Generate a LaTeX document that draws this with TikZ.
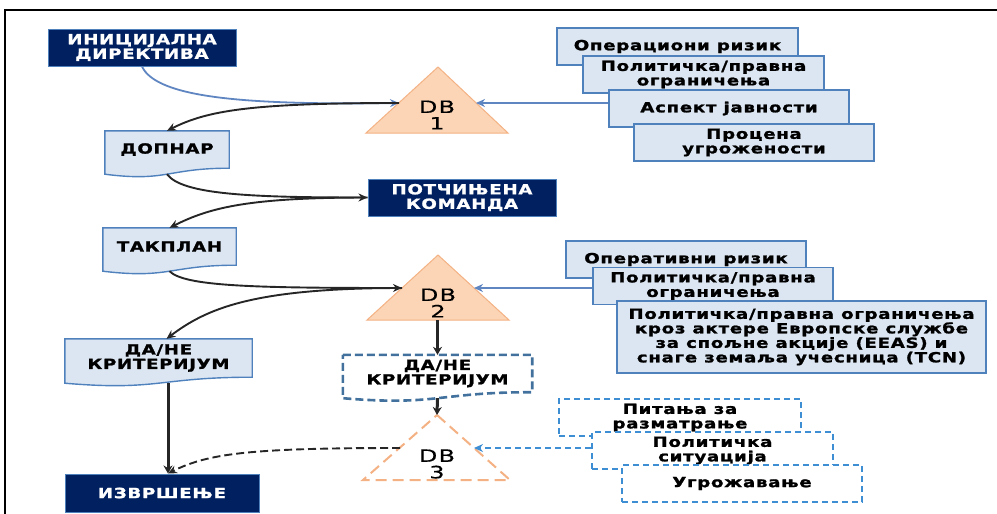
\documentclass[tikz,border=0pt]{standalone}
\usepackage{fontspec}
\setmainfont{DejaVu Sans}[FakeStretch=1.3,LetterSpace=5,BoldFeatures={FakeBold=1.4}]
\newfontfamily\dbfont{DejaVu Sans}[FakeStretch=1.4,LetterSpace=8,FakeBold=0.5]
\usetikzlibrary{calc,arrows,arrows.meta,positioning,backgrounds}

\definecolor{navy}{RGB}{0,32,96}
\definecolor{boxfill}{RGB}{220,230,242}
\definecolor{boxline}{RGB}{79,129,189}
\definecolor{trifill}{RGB}{251,213,181}
\definecolor{triline}{RGB}{244,177,131}
\definecolor{dashblue}{RGB}{62,142,212}
\definecolor{steel}{RGB}{65,113,156}
\definecolor{linkblue}{RGB}{96,134,194}

% document box: wavy bottom drawn behind the node
\newcommand{\docpath}[2]{%
  \begin{pgfonlayer}{background}
  \draw[#2] (#1.north west) -- (#1.north east) -- (#1.south east)
    .. controls (#1.south) and ($(#1.south)+(0,14)$) .. ($(#1.south west)+(0,6)$) -- cycle;
  \end{pgfonlayer}
  \coordinate (#1 wave) at ($(#1.south)+(0,6)$);}

\begin{document}
\begin{tikzpicture}[x=1pt,y=-1pt,
 boxfont/.style={font=\fontsize{14}{14.5}\selectfont\bfseries},
 navybox/.style={boxfont,draw=boxline,fill=navy,text=white,line width=1pt,
   minimum width=188,minimum height=37,inner sep=0,align=center},
 docbox/.style={boxfont,minimum height=37,inner sep=0,align=center},
 docfill/.style={draw=boxline,fill=boxfill,line width=1.4pt},
 docdash/.style={draw=steel,fill=white,line width=2.6pt,dash pattern=on 8pt off 4pt},
 riskbox/.style={boxfont,draw=boxline,fill=boxfill,line width=1.4pt,
   minimum width=241,minimum height=37,inner sep=0,align=center},
 dashbox/.style={boxfont,draw=dashblue,fill=white,line width=1.6pt,dash pattern=on 6pt off 4pt,
   minimum width=242,minimum height=37,inner sep=0,align=center},
 tri/.style={fill=trifill,draw=triline,line width=1pt},
 dashtri/.style={fill=white,draw=triline,line width=2pt,dash pattern=on 11pt off 6pt},
 dbtxt/.style={font=\dbfont\fontsize{17}{16.5}\selectfont,align=center,inner sep=0},
 link/.style={-{Stealth[length=9pt,width=8pt]},line width=1.9pt,black!85},
 vlink/.style={-{Stealth[length=8pt,width=9pt]},line width=3pt,black!85},
 bluelink/.style={-{Stealth[length=9pt,width=8pt]},line width=1.8pt,linkblue}]
\useasboundingbox (0,0) rectangle (997,514);
\draw[line width=2.4pt] (5,514) -- (5,10) -- (997,10);

% decision triangles
\draw[tri] (438,67) coordinate (db1 top) -- (508,133) -- (366,133) -- cycle;
\node[dbtxt] (db1) at (437,115) {DB\\1};
\coordinate (db1 left) at (399,103);
\coordinate (db1 right) at (476,103);

\draw[tri] (438,255) coordinate (db2 top) -- (509,320) -- (367,320) -- cycle;
\node[dbtxt] (db2) at (438,303) {DB\\2};
\coordinate (db2 left) at (402,288);
\coordinate (db2 right) at (474,288);
\coordinate (db2 bottom) at (437.5,320);

\draw[dashtri] (437,415) coordinate (db3 top) -- (510,480) -- (363,480) -- cycle;
\node[dbtxt] (db3) at (437,464) {DB\\3};
\coordinate (db3 left) at (400,448);
\coordinate (db3 right) at (474,448);

% left column
\node[navybox] (init) at (142,47.5) {ИНИЦИЈАЛНА\\ДИРЕКТИВА};
\node[docbox,minimum width=124] (dopnar) at (167,149.5) {ДОПНАР};
\docpath{dopnar}{docfill}
\node[navybox] (potch) at (462,197.5) {ПОТЧИЊЕНА\\КОМАНДА};
\node[docbox,minimum width=133] (takplan) at (169.5,246.5) {ТАКПЛАН};
\docpath{takplan}{docfill}
\node[docbox,minimum width=187,minimum height=38] (dane1) at (158.5,358) {ДА/НЕ\\КРИТЕРИЈУМ};
\docpath{dane1}{docfill}
\node[docbox,minimum width=189] (dane2) at (437.5,373.5) {ДА/НЕ\\КРИТЕРИЈУМ};
\docpath{dane2}{docdash}
\node[navybox,minimum width=194,minimum height=38] (izv) at (162,493) {ИЗВРШЕЊЕ};
\coordinate (izv in) at ([xshift=6]izv.north);

% factors for DB 1
\node[riskbox] (opr1) at (677.5,46.5) {Операциони ризик};
\node[riskbox] (pol1) at (703.5,74.5) {Политичка/правна\\ограничења};
\node[riskbox,minimum width=240] (asp) at (729,108.5) {Аспект јавности};
\node[riskbox,minimum width=240] (proc) at (754,142.5) {Процена\\угрожености};

% factors for DB 2
\node[riskbox,minimum width=240] (opr2) at (686,259.5) {Оперативни ризик};
\node[riskbox,minimum width=240] (pol2) at (713,286) {Политичка/правна\\ограничења};
\node[riskbox,minimum width=369,minimum height=72] (eeas) at (801.5,337)
  {Политичка/правна ограничења\\кроз актере Европске службе\\за спољне акције (EEAS) и\\снаге земаља учесница (TCN)};

% factors for DB 3
\node[dashbox] (pit) at (680,417.5) {Питања за\\разматрање};
\node[dashbox,minimum width=241] (polsit) at (712.5,450.5) {Политичка\\ситуација};
\node[dashbox,minimum width=240] (ugr) at (742,483.5) {Угрожавање};

% connectors
\draw[bluelink] (init.south) .. controls +(15,32) and +(-150,2) .. (db1 left);
\draw[link] (db1 left) .. controls +(-150,0) and +(40,-20) .. (dopnar.north);
\draw[link] (dopnar wave) .. controls +(15,20) and +(-120,0) .. (potch.west);
\draw[link] (potch.west) .. controls +(-120,0) and +(40,-20) .. (takplan.north);
\draw[link] (takplan wave) .. controls +(15,15) and +(-150,0) .. (db2 left);
\draw[link] (db2 left) .. controls +(-150,0) and +(40,-30) .. ([xshift=8]dane1.north);
\draw[vlink] (dane1 wave -| izv in) -- (izv in);
\draw[vlink] (db2 bottom) -- (dane2.north);
\draw[vlink] (dane2 wave) -- (db3 top);
\draw[link,dash pattern=on 8pt off 4pt] (db3 left) .. controls +(-150,0) and +(40,-20) .. (izv in);
\draw[bluelink] (asp.west |- db1 right) -- (db1 right);
\draw[bluelink] (pol2.west |- db2 right) -- (db2 right);
\draw[bluelink,dashblue,dash pattern=on 6pt off 4pt] (polsit.west |- db3 right) -- (db3 right);
\end{tikzpicture}
\end{document}
